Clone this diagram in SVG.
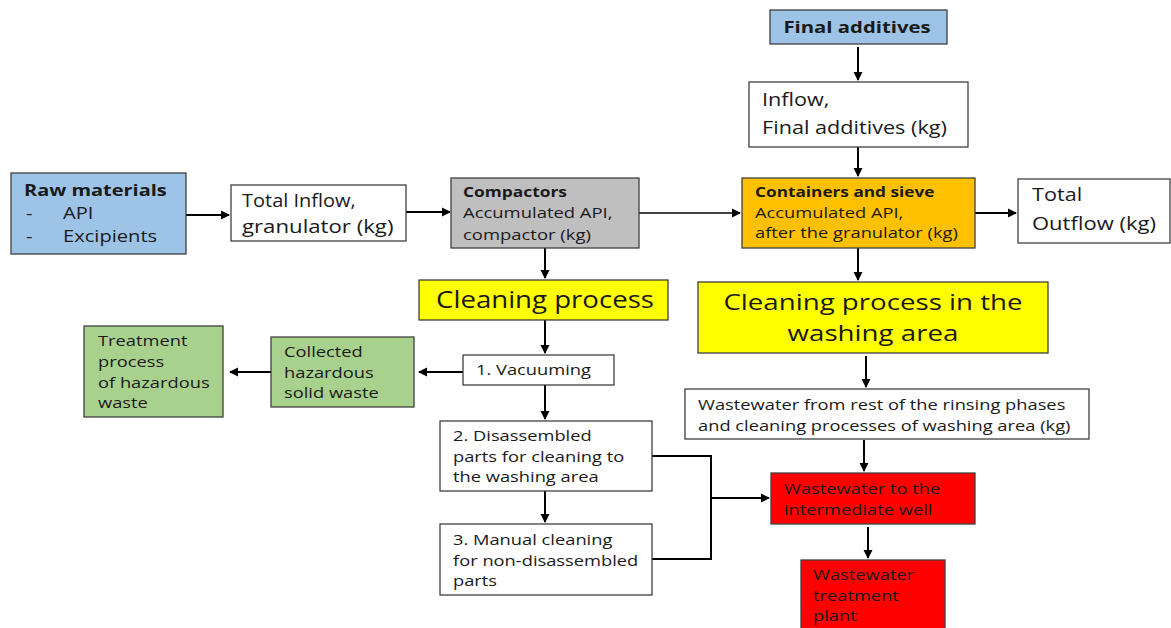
<svg xmlns="http://www.w3.org/2000/svg" width="1171" height="628" viewBox="0 0 1171 628">
<style>
.box{stroke:#404040;stroke-width:1.3}
.w{fill:#ffffff}
.blue{fill:#9DC3E6}
.gray{fill:#BFBFBF}
.orange{fill:#FFC000}
.yellow{fill:#FFFF00}
.green{fill:#A9D18E}
.red{fill:#FF0000}
text{font-family:"Open Sans","Liberation Sans",sans-serif;fill:#1a1a1a}
.t18{font-size:18.5px}
.t15{font-size:15px}
.t17{font-size:16.5px}
.b{font-weight:bold;font-size:14px}
.big{font-size:24px}
.big2{font-size:22.5px}
.conn line,.conn polyline{stroke:#000;stroke-width:2;fill:none}
</style>
<defs>
<marker id="ah" markerWidth="10" markerHeight="10" refX="8" refY="5" orient="auto" markerUnits="userSpaceOnUse">
<path d="M0,0.5 L9,5 L0,9.5 z" fill="#000"/>
</marker>
</defs>
<rect width="1171" height="628" fill="#ffffff"/>

<g class="conn">
<line x1="186" y1="215" x2="229" y2="215" marker-end="url(#ah)"/>
<line x1="406" y1="212" x2="450" y2="212" marker-end="url(#ah)"/>
<line x1="639" y1="213" x2="740" y2="213" marker-end="url(#ah)" style="stroke-width:1.4"/>
<line x1="975" y1="213" x2="1016" y2="213" marker-end="url(#ah)"/>
<line x1="858" y1="47" x2="858" y2="80" marker-end="url(#ah)"/>
<line x1="858" y1="147" x2="858" y2="176" marker-end="url(#ah)"/>
<line x1="545" y1="248" x2="545" y2="278" marker-end="url(#ah)"/>
<line x1="545" y1="320" x2="545" y2="353" marker-end="url(#ah)"/>
<line x1="463" y1="372" x2="419" y2="372" marker-end="url(#ah)"/>
<line x1="271" y1="372" x2="230" y2="372" marker-end="url(#ah)"/>
<line x1="545" y1="385" x2="545" y2="419" marker-end="url(#ah)"/>
<line x1="545" y1="491" x2="545" y2="522" marker-end="url(#ah)"/>
<polyline points="652,456 711,456 711,559 652,559"/>
<line x1="711" y1="498" x2="769" y2="498" marker-end="url(#ah)"/>
<line x1="858" y1="248" x2="858" y2="280" marker-end="url(#ah)"/>
<line x1="866" y1="356" x2="866" y2="387" marker-end="url(#ah)"/>
<line x1="864" y1="440" x2="864" y2="471" marker-end="url(#ah)"/>
<line x1="868" y1="527" x2="868" y2="558" marker-end="url(#ah)"/>
</g>

<g id="raw-materials">
<rect class="box blue" x="11" y="173" width="175" height="81"/>
<text class="t17" style="font-weight:bold" transform="translate(24 196) scale(1.21 1)">Raw materials</text>
<text class="t17" transform="translate(26 219) scale(1.22 1)">-</text>
<text class="t17" transform="translate(63 219) scale(1.22 1)">API</text>
<text class="t17" transform="translate(26 242) scale(1.22 1)">-</text>
<text class="t17" transform="translate(63 242) scale(1.22 1)">Excipients</text>
</g>

<g id="total-inflow">
<rect class="box w" x="231" y="185" width="175" height="56"/>
<text class="t18" transform="translate(242 207) scale(1.08 1)">Total Inflow,</text>
<text class="t18" transform="translate(242 233) scale(1.2 1)">granulator (kg)</text>
</g>

<g id="compactors">
<rect class="box gray" x="451" y="178" width="188" height="70"/>
<text class="b" transform="translate(463 197) scale(1.24 1)">Compactors</text>
<text class="t15" transform="translate(463 218) scale(1.23 1)">Accumulated API,</text>
<text class="t15" transform="translate(463 240) scale(1.23 1)">compactor (kg)</text>
</g>

<g id="final-additives">
<rect class="box blue" x="770" y="10" width="177" height="34"/>
<text text-anchor="middle" style="font-weight:bold;font-size:16.5px" transform="translate(857 33) scale(1.23 1)">Final additives</text>
</g>

<g id="inflow-final">
<rect class="box w" x="749" y="82" width="219" height="65"/>
<text class="t18" transform="translate(762 106) scale(1.17 1)">Inflow,</text>
<text class="t18" transform="translate(762 134) scale(1.17 1)">Final additives (kg)</text>
</g>

<g id="containers">
<rect class="box orange" x="742" y="178" width="233" height="70"/>
<text class="b" transform="translate(755 197) scale(1.23 1)">Containers and sieve</text>
<text class="t15" transform="translate(755 218) scale(1.22 1)">Accumulated API,</text>
<text class="t15" transform="translate(755 238) scale(1.22 1)">after the granulator (kg)</text>
</g>

<g id="total-outflow">
<rect class="box w" x="1018" y="179" width="152" height="64"/>
<text class="t18" transform="translate(1032 201) scale(1.17 1)">Total</text>
<text class="t18" transform="translate(1032 230) scale(1.19 1)">Outflow (kg)</text>
</g>

<g id="cleaning-process">
<rect class="box yellow" x="419" y="280" width="249" height="40"/>
<text class="big" text-anchor="middle" transform="translate(545 308) scale(1.15 1)">Cleaning process</text>
</g>

<g id="vacuuming">
<rect class="box w" x="463" y="355" width="151" height="30"/>
<text class="t15" transform="translate(476 375) scale(1.22 1)">1. Vacuuming</text>
</g>

<g id="collected">
<rect class="box green" x="271" y="337" width="143" height="70"/>
<text class="t15" transform="translate(284 357) scale(1.22 1)">Collected</text>
<text class="t15" transform="translate(284 378) scale(1.22 1)">hazardous</text>
<text class="t15" transform="translate(284 398) scale(1.22 1)">solid waste</text>
</g>

<g id="treatment">
<rect class="box green" x="84" y="326" width="139" height="91"/>
<text class="t15" transform="translate(98 346) scale(1.22 1)">Treatment</text>
<text class="t15" transform="translate(98 367) scale(1.22 1)">process</text>
<text class="t15" transform="translate(98 388) scale(1.22 1)">of hazardous</text>
<text class="t15" transform="translate(98 408) scale(1.22 1)">waste</text>
</g>

<g id="disassembled">
<rect class="box w" x="440" y="421" width="212" height="70"/>
<text class="t15" transform="translate(453 441) scale(1.22 1)">2. Disassembled</text>
<text class="t15" transform="translate(453 462) scale(1.22 1)">parts for cleaning to</text>
<text class="t15" transform="translate(453 482) scale(1.22 1)">the washing area</text>
</g>

<g id="manual">
<rect class="box w" x="440" y="524" width="212" height="71"/>
<text class="t15" transform="translate(453 545) scale(1.22 1)">3. Manual cleaning</text>
<text class="t15" transform="translate(453 566) scale(1.22 1)">for non-disassembled</text>
<text class="t15" transform="translate(453 586) scale(1.22 1)">parts</text>
</g>

<g id="cleaning-washing">
<rect class="box yellow" x="698" y="282" width="350" height="71"/>
<text class="big2" text-anchor="middle" transform="translate(873 310) scale(1.23 1)">Cleaning process in the</text>
<text class="big2" text-anchor="middle" transform="translate(873 341) scale(1.23 1)">washing area</text>
</g>

<g id="wastewater-rinsing">
<rect class="box w" x="685" y="389" width="404" height="50"/>
<text class="t15" transform="translate(698 410) scale(1.22 1)">Wastewater from rest of the rinsing phases</text>
<text class="t15" transform="translate(698 431) scale(1.22 1)">and cleaning processes of washing area (kg)</text>
</g>

<g id="intermediate-well">
<rect class="box red" x="771" y="473" width="204" height="51"/>
<text class="t15" transform="translate(784 494) scale(1.22 1)">Wastewater to the</text>
<text class="t15" transform="translate(784 515) scale(1.22 1)">intermediate well</text>
</g>

<g id="treatment-plant">
<rect class="box red" x="801" y="560" width="144" height="75"/>
<text class="t15" transform="translate(813 580) scale(1.22 1)">Wastewater</text>
<text class="t15" transform="translate(813 601) scale(1.22 1)">treatment</text>
<text class="t15" transform="translate(813 621) scale(1.22 1)">plant</text>
</g>
</svg>
